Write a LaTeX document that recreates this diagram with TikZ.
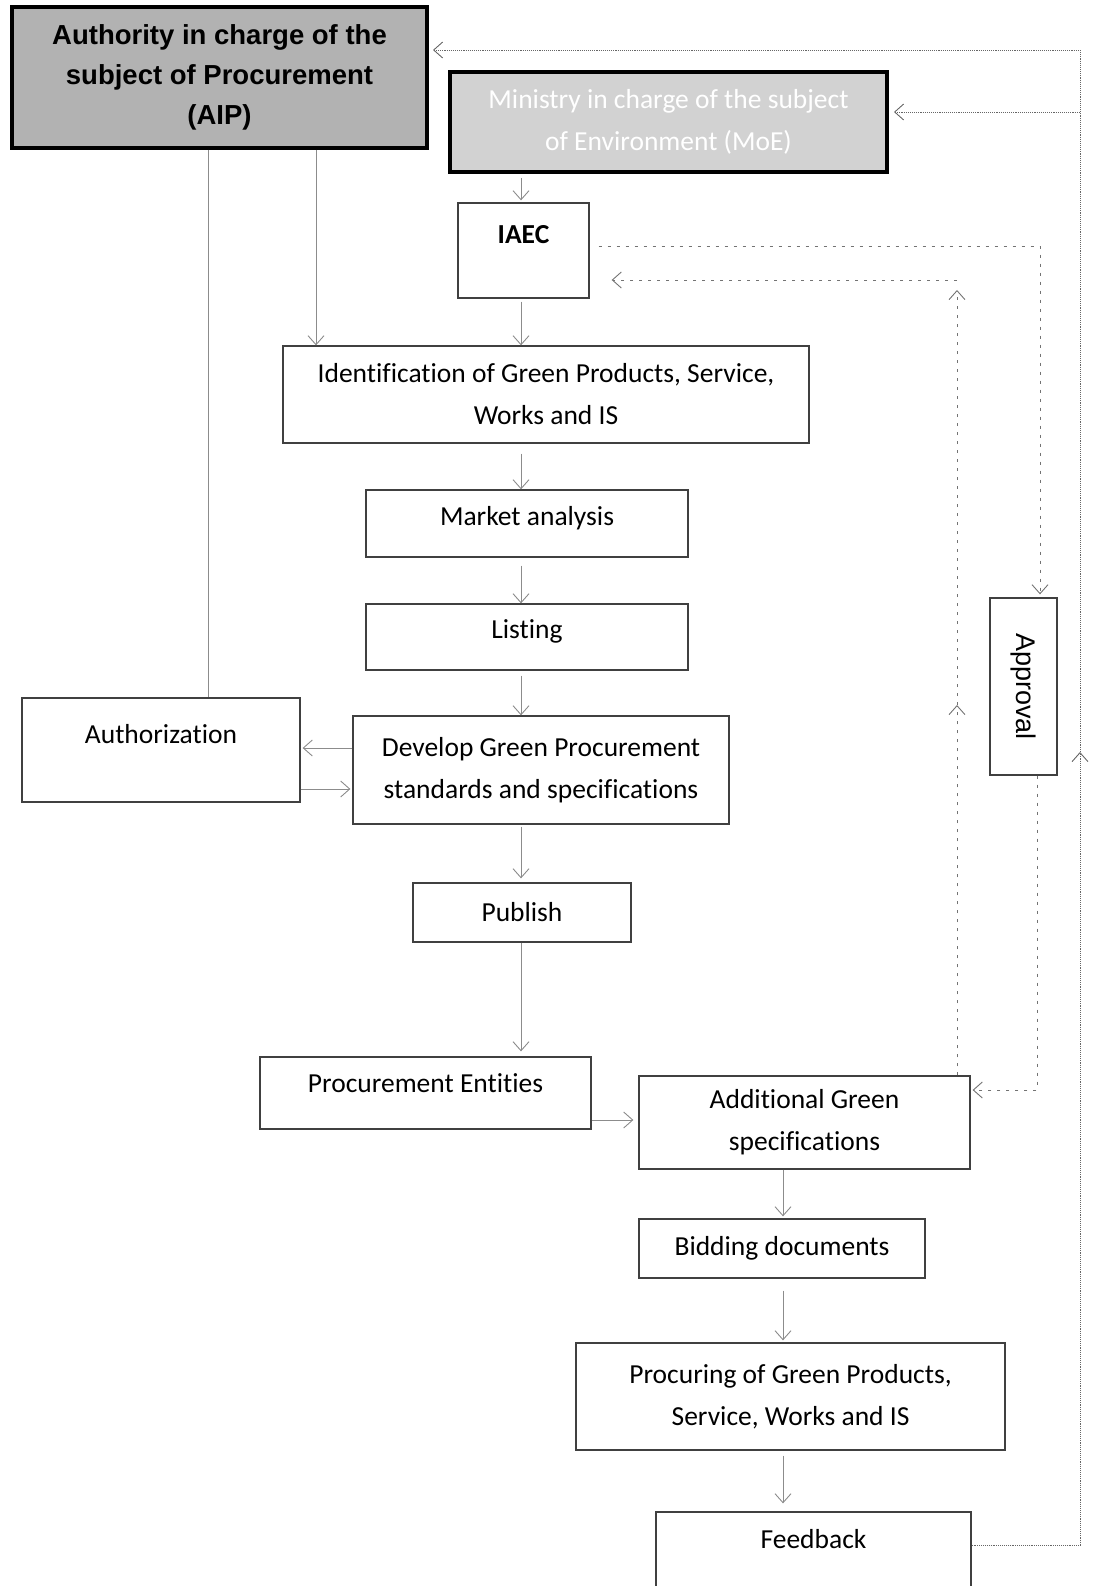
\documentclass[tikz,border=0pt]{standalone}
\usepackage{fontspec}
\setmainfont{Carlito}[Ligatures=NoCommon]
\newfontfamily\arialfont{Liberation Sans}
\usetikzlibrary{arrows.meta}

\begin{document}
\begin{tikzpicture}[x=1pt,y=-1pt,
  box/.style={draw=black!75, line width=1.3pt, align=center, inner sep=0pt, font=\fontsize{27.5}{42}\selectfont},
  head/.style={box, draw=black, line width=4pt},
  nudge/.style={text depth=#1},
  flow/.style={draw=black!45, line width=0.9pt, -{Straight Barb[length=9pt,width=16pt]}},
  dots/.style={flow, draw=black!60, densely dotted},
  loose/.style={flow, draw=black!55, dash pattern=on 3pt off 6pt}]
\useasboundingbox (0,0) rectangle (1103,1586);

% columns and rows used by the connectors
\coordinate (xauth) at (208,0);
\coordinate (xaip) at (316,0);
\coordinate (xmid) at (521,0);
\coordinate (xlow) at (783,0);
\coordinate (xback) at (957,0);
\coordinate (xappr) at (1040,0);
\coordinate (xdown) at (1037,0);
\coordinate (xloop) at (1080,0);
\coordinate (ytop) at (0,50);
\coordinate (ymoe) at (0,112);
\coordinate (yappr) at (0,246);
\coordinate (yret) at (0,280);
\coordinate (yhigh) at (0,290);
\coordinate (ymidb) at (0,705);
\coordinate (yleft) at (0,748);
\coordinate (yup) at (0,752);
\coordinate (yright) at (0,789);
\coordinate (yadd) at (0,1090);
\coordinate (ype) at (0,1120);
\coordinate (yfb) at (0,1545);

% boxes
\node[head, fill=gray!60, minimum width=415pt, minimum height=141pt,
  font=\arialfont\bfseries\fontsize{27.5}{40}\selectfont] (aip) at (219.5,77.5)
  {Authority in charge of the\\subject of Procurement\\(AIP)};
\node[head, fill=gray!35, text=white, minimum width=437pt, minimum height=100pt] (moe) at (668.5,122)
  {Ministry in charge of the subject\\of Environment (MoE)};
\node[box, minimum width=131pt, minimum height=95pt, nudge=32pt, font=\bfseries\fontsize{27.5}{42}\selectfont] (iaec) at (523.5,250.5) {IAEC};
\node[box, minimum width=526pt, minimum height=97pt] (ident) at (546,394.5)
  {Identification of Green Products, Service,\\Works and IS};
\node[box, minimum width=322pt, minimum height=67pt, nudge=15pt] (market) at (527,523.5) {Market analysis};
\node[box, minimum width=322pt, minimum height=66pt, nudge=15pt] (listing) at (527,637) {Listing};
\node[box, minimum width=376pt, minimum height=108pt] (develop) at (541,770)
  {Develop Green Procurement\\standards and specifications};
\node[box, minimum width=278pt, minimum height=104pt, nudge=32pt] (auth) at (161,750) {Authorization};
\node[box, minimum width=218pt, minimum height=59pt] (publish) at (522,912.5) {Publish};
\node[box, minimum width=331pt, minimum height=72pt, nudge=19pt] (pe) at (425.5,1093) {Procurement Entities};
\node[box, minimum width=331pt, minimum height=93pt] (addgreen) at (804.5,1122.5)
  {Additional Green\\specifications};
\node[box, minimum width=286pt, minimum height=59pt] (bidding) at (782,1248.5) {Bidding documents};
\node[box, minimum width=429pt, minimum height=107pt] (procuring) at (790.5,1396.5)
  {Procuring of Green Products,\\Service, Works and IS};
\node[box, minimum width=315pt, minimum height=88pt, nudge=35pt] (feedback) at (813.5,1556) {Feedback};
\node[box, minimum width=67pt, minimum height=177pt, font=\arialfont\fontsize{27}{32}\selectfont] (approval) at (1023.5,686.5)
  {\rotatebox{-90}{Approval}};

% main flow
\draw[flow, shorten <=4pt, shorten >=2pt] (moe.south -| xmid) -- (iaec.north -| xmid);
\draw[flow, shorten <=3pt] (iaec.south -| xmid) -- (ident.north -| xmid);
\draw[flow] (aip.south -| xaip) -- (ident.north -| xaip);
\draw[draw=black!45, line width=0.9pt] (aip.south -| xauth) -- (auth.north -| xauth);
\draw[flow, shorten <=10pt] (ident.south -| xmid) -- (market.north -| xmid);
\draw[flow, shorten <=8pt] (market.south -| xmid) -- (listing.north -| xmid);
\draw[flow, shorten <=5pt] (listing.south -| xmid) -- (develop.north -| xmid);
\draw[flow, shorten >=2pt] (develop.west |- yleft) -- (auth.east |- yleft);
\draw[flow, shorten >=2pt] (auth.east |- yright) -- (develop.west |- yright);
\draw[flow, shorten <=2pt, shorten >=4pt] (develop.south -| xmid) -- (publish.north -| xmid);
\draw[flow, shorten >=5pt] (publish.south -| xmid) -- (pe.north -| xmid);
\draw[flow, shorten >=5pt] (pe.east |- ype) -- (addgreen.west |- ype);
\draw[flow, shorten >=2pt] (addgreen.south -| xlow) -- (bidding.north -| xlow);
\draw[flow, shorten <=12pt, shorten >=2pt] (bidding.south -| xlow) -- (procuring.north -| xlow);
\draw[flow, shorten <=5pt, shorten >=8pt] (procuring.south -| xlow) -- (feedback.north -| xlow);

% feedback loop
\draw[dots] (feedback.east |- yfb) -| (xloop |- yup);
\draw[dots, shorten >=4pt] (xloop |- yup) |- (aip.east |- ytop);
\draw[dots, shorten >=5pt] (xloop |- ymoe) -- (moe.east |- ymoe);

% approval path
\draw[loose, shorten <=9pt, shorten >=3pt] (iaec.east |- yappr) -| (approval.north -| xappr);
\draw[loose, shorten >=2pt] (approval.south -| xdown) |- (addgreen.east |- yadd);
\draw[loose] (addgreen.north -| xback) -- (xback |- ymidb);
\draw[loose] (xback |- ymidb) -- (xback |- yhigh);
\draw[loose, shorten >=22pt] (xback |- yret) -- (iaec.east |- yret);
\end{tikzpicture}
\end{document}
